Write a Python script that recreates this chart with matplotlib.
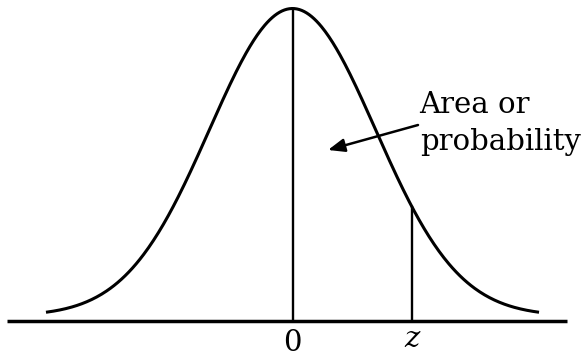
import numpy as np
import matplotlib
matplotlib.use("Agg")
import matplotlib.pyplot as plt

# standard normal curve, z marked to the right of the mean
mean = 0.0
z_value = 1.44
tail = 2.97
tick_labels = ["0", "z"]
note_lines = ["Area or", "probability"]

x = np.linspace(-tail, tail, 400)
y = np.exp(-0.5 * x**2) / np.sqrt(2 * np.pi)


def pdf(v):
    return np.exp(-0.5 * v**2) / np.sqrt(2 * np.pi)


fig = plt.figure(figsize=(5.87, 3.58), dpi=100)
ax = fig.add_axes([0, 0, 1, 1])
ax.set_xlim(-3.524, 3.548)
ax.set_ylim(-0.0545, 0.41)
ax.axis("off")

base = -0.0065
ax.plot(x, y, color="black", lw=2.2, solid_capstyle="butt")
ax.plot([-3.44, 3.31], [base, base], color="black", lw=2.5, solid_capstyle="butt")
ax.plot([mean, mean], [base, pdf(mean)], color="black", lw=1.7)
ax.plot([z_value, z_value], [base, pdf(z_value)], color="black", lw=1.7)

ax.text(mean, -0.0345, tick_labels[0], family="DejaVu Serif", fontsize=21,
        ha="center", va="center")
ax.text(z_value, -0.0298, tick_labels[1], family="DejaVu Serif", style="italic",
        fontsize=21, ha="center", va="center")

# two lines of the note placed one by one
ax.text(1.524, 0.2633, note_lines[0], family="DejaVu Serif", fontsize=21,
        ha="left", va="baseline")
ax.text(1.536, 0.2154, note_lines[1], family="DejaVu Serif", fontsize=21,
        ha="left", va="baseline")

ax.annotate("", xy=(0.428, 0.2154), xytext=(1.512, 0.2478),
            arrowprops=dict(arrowstyle="-|>,head_length=1.0,head_width=0.4",
                            color="black", lw=1.8, shrinkA=0, shrinkB=0))

fig.savefig("out.png", dpi=100)
